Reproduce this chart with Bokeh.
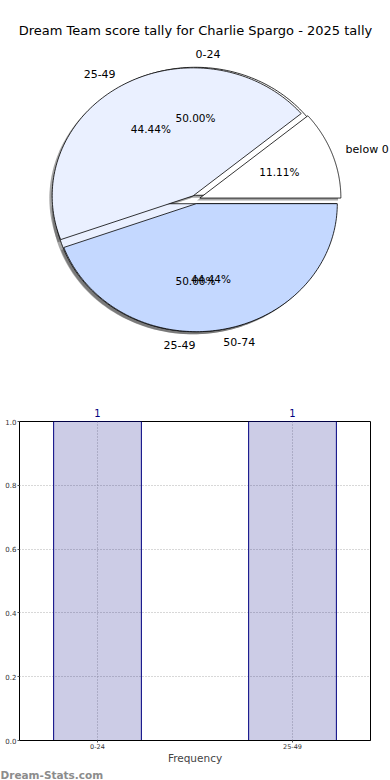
import numpy as np
from bokeh.plotting import figure
from bokeh.models import ColumnDataSource, LabelSet, Label, FixedTicker, LinearAxis, Title
from bokeh.core.properties import value
from bokeh.embed import file_html
from bokeh.resources import INLINE

# ---------------- data ----------------
title_text = "Dream Team score tally for Charlie Spargo - 2025 tally"
pie1_labels = ["0-24", "25-49"]
pie1_values = [1, 1]
pie2_labels = ["below 0", "25-49", "50-74"]
pie2_values = [1, 4, 4]
pie_colors = ["#ffffff", "#eaf0ff", "#c4d8ff"]

bar_labels = ["0-24", "25-49"]
bar_counts = [1, 1]
y_ticks = [0.0, 0.2, 0.4, 0.6, 0.8, 1.0]
x_label = "Frequency"
watermark = "Dream-Stats.com"

FONT = "DejaVu Sans"

# ---------------- pie figure ----------------
PW, PH = 390, 380
PX, PY = 141.0, 128.0      # px per radius unit
CX, CY = 195.0, 199.0      # pie centre in figure px (from top-left)
EXPLODE = 0.033
SHADOW = 0.02

pie = figure(width=PW, height=PH, output_backend="svg", toolbar_location=None,
             x_axis_type=None, y_axis_type=None,
             x_range=(-CX / PX, (PW - CX) / PX), y_range=((CY - PH) / PY, CY / PY),
             min_border=0, min_border_left=0, min_border_right=0,
             min_border_top=0, min_border_bottom=0)
pie.title.visible = False
pie.grid.visible = False
pie.outline_line_color = None
pie.background_fill_color = "white"


def wedges(vals):
    vals = np.asarray(vals, dtype=float)
    frac = vals / vals.sum()
    ends = np.cumsum(frac) * 2 * np.pi
    starts = ends - frac * 2 * np.pi
    out = []
    for s, e, f in zip(starts, ends, frac):
        mid = (s + e) / 2
        ox, oy = EXPLODE * np.cos(mid), EXPLODE * np.sin(mid)
        t = np.linspace(s, e, 120)
        xs = np.concatenate([[ox], ox + np.cos(t), [ox]])
        ys = np.concatenate([[oy], oy + np.sin(t), [oy]])
        out.append((xs, ys, mid, ox, oy, f))
    return out


w1 = wedges(pie1_values)
w2 = wedges(pie2_values)

# shadows (below all wedges)
for ws in (w1, w2):
    pie.patches(xs=[list(w[0] - SHADOW) for w in ws], ys=[list(w[1] - SHADOW) for w in ws],
                fill_color="#4d4d4d", fill_alpha=0.5, line_color=None)

for ws in (w1, w2):
    pie.patches(xs=[list(w[0]) for w in ws], ys=[list(w[1]) for w in ws],
                fill_color=pie_colors[:len(ws)], line_color="black", line_width=0.8)

lab_x, lab_y, lab_t, lab_a = [], [], [], []
pct_x, pct_y, pct_t = [], [], []
for ws, labs in ((w1, pie1_labels), (w2, pie2_labels)):
    for w, lab in zip(ws, labs):
        xs, ys, mid, ox, oy, f = w
        cx, cy = np.cos(mid), np.sin(mid)
        lab_x.append(ox + 1.1 * cx)
        lab_y.append(oy + 1.1 * cy)
        lab_t.append(lab)
        lab_a.append("left" if cx > 0 else "right")
        pct_x.append(ox + 0.6 * cx)
        pct_y.append(oy + 0.6 * cy)
        pct_t.append("%.2f%%" % (f * 100))

pie.add_layout(LabelSet(source=ColumnDataSource(dict(x=lab_x, y=lab_y, t=lab_t, a=lab_a)),
                        x="x", y="y", text="t", text_align="a", text_baseline="middle",
                        text_font=value(FONT), text_font_size="11px", text_color="black"))
pie.add_layout(LabelSet(source=ColumnDataSource(dict(x=pct_x, y=pct_y, t=pct_t)),
                        x="x", y="y", text="t", text_align="center", text_baseline="middle",
                        text_font=value(FONT), text_font_size="10.5px", text_color="black"))
pie.add_layout(Label(x=0, y=(CY - 30) / PY, text=title_text, text_align="center",
                     text_baseline="middle", text_font=FONT, text_font_size="13px",
                     text_color="black"))

# ---------------- bar figure ----------------
BW, BH = 390, 400
BL, BR, BT, BB = 19, 20, 41, 40
FW, FH = BW - BL - BR, BH - BT - BB
XS = 195.0
x0 = -(97 - BL) / XS
bx = list(range(len(bar_labels)))

bar = figure(width=BW, height=BH, output_backend="svg", toolbar_location=None,
             x_range=(x0, x0 + FW / XS), y_range=(0, 1.0),
             min_border_left=BL, min_border_right=BR, min_border_top=BT, min_border_bottom=BB)
bar.title.visible = False
bar.vbar(x=bx, top=bar_counts, width=0.45, fill_color="navy", fill_alpha=0.2,
         line_color="navy", line_width=1)

bottom_axis = bar.below[0]
left_axis = bar.left[0]
xt = FixedTicker(ticks=bx)
yt = FixedTicker(ticks=y_ticks)
bottom_axis.ticker = xt
bar.xgrid.ticker = xt
left_axis.ticker = yt
bar.ygrid.ticker = yt
bottom_axis.major_label_overrides = {i: l for i, l in enumerate(bar_labels)}
left_axis.major_label_overrides = {t: "%.1f" % t for t in y_ticks}
for ax in (bottom_axis, left_axis):
    ax.axis_line_color = "black"
    ax.major_tick_line_color = "#555555"
    ax.major_tick_in = 0
    ax.major_tick_out = 2
    ax.minor_tick_line_color = None
    ax.major_label_text_font = FONT
    ax.major_label_text_color = "#333333"
    ax.major_label_standoff = 1
bottom_axis.major_label_text_font_size = "6.5px"
left_axis.major_label_text_font_size = "7px"
bottom_axis.axis_label = x_label
bottom_axis.axis_label_text_font = FONT
bottom_axis.axis_label_text_font_size = "10.5px"
bottom_axis.axis_label_text_font_style = "normal"
bottom_axis.axis_label_standoff = 0

top_axis = LinearAxis(ticker=FixedTicker(ticks=bx),
                      major_label_overrides={i: str(c) for i, c in zip(bx, bar_counts)})
top_axis.axis_line_color = None
top_axis.major_tick_line_color = None
top_axis.minor_tick_line_color = None
top_axis.major_tick_in = 0
top_axis.major_tick_out = 0
top_axis.major_label_text_color = "navy"
top_axis.major_label_text_font = FONT
top_axis.major_label_text_font_size = "10px"
top_axis.major_label_standoff = 5
bar.add_layout(top_axis, "above")

bar.outline_line_color = "black"
bar.outline_line_width = 1
bar.xgrid.grid_line_color = "#b0b0b0"
bar.ygrid.grid_line_color = "#b0b0b0"
bar.xgrid.grid_line_dash = "1 2"
bar.ygrid.grid_line_dash = "1 2"

wm = Title(text=watermark, align="left", offset=-BL, standoff=0,
           text_font=FONT, text_font_size="10.5px", text_font_style="bold",
           text_color="#8c8c8c")
bar.add_layout(wm, "below")

open("out.html", "w").write(file_html([pie, bar], INLINE))
